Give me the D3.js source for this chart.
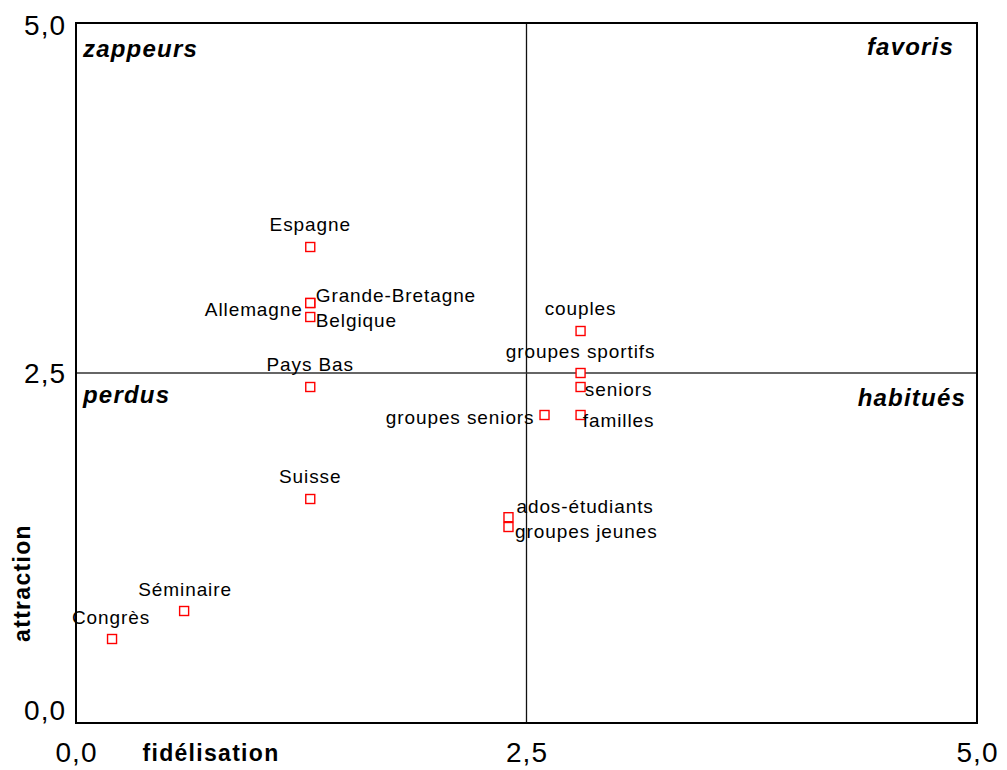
<!DOCTYPE html>
<html>
<head>
<meta charset="utf-8">
<script src="https://cdn.jsdelivr.net/npm/d3@7"></script>
<style>
  html, body { margin: 0; padding: 0; background: #fff; }
  svg { display: block; font-family: "Liberation Sans", Arial, sans-serif; }
</style>
</head>
<body>
<svg id="chart" width="1007" height="770"></svg>
<script>
// ---- data ----
const names = ["Espagne", "Grande-Bretagne", "Allemagne", "Belgique", "Pays Bas", "Suisse",
  "Séminaire", "Congrès", "couples", "groupes sportifs", "seniors", "familles",
  "groupes seniors", "ados-étudiants", "groupes jeunes"];
const fidelisation = [1.3, 1.3, 1.3, 1.3, 1.3, 1.3, 0.6, 0.2, 2.8, 2.8, 2.8, 2.8, 2.6, 2.4, 2.4];
const attraction   = [3.4, 3.0, 3.0, 2.9, 2.4, 1.6, 0.8, 0.6, 2.8, 2.5, 2.4, 2.2, 2.2, 1.47, 1.4];
const tickValues = [0, 2.5, 5];
const quadrants = ["zappeurs", "favoris", "perdus", "habitués"];
const xTitle = "fidélisation";
const yTitle = "attraction";

// ---- label placement (layout only) ----
const labelPlace = {
  "Espagne": [0, -23, "middle"],
  "Grande-Bretagne": [5.5, -7.5, "start"],
  "Allemagne": [-7.5, 6.7, "end"],
  "Belgique": [5.5, 3, "start"],
  "Pays Bas": [0, -23, "middle"],
  "Suisse": [0, -23, "middle"],
  "Séminaire": [1, -22, "middle"],
  "Congrès": [-1, -22, "middle"],
  "couples": [0, -23, "middle"],
  "groupes sportifs": [0, -22, "middle"],
  "seniors": [4.3, 2.7, "start"],
  "familles": [2.3, 5.7, "start"],
  "groupes seniors": [-10, 2, "end"],
  "ados-étudiants": [8, -11, "start"],
  "groupes jeunes": [6.6, 4.4, "start"]
};

const margin = {left: 76, top: 23, right: 30, bottom: 47};
const svg = d3.select("#chart");
const W = 1007 - margin.left - margin.right;
const H = 770 - margin.top - margin.bottom;
const g = svg.append("g").attr("transform", `translate(${margin.left},${margin.top})`);

const x = d3.scaleLinear().domain([0, 5]).range([0, W]);
const y = d3.scaleLinear().domain([0, 5]).range([H, 0]);
const fmt = v => d3.format(".1f")(v).replace(".", ",");

// quadrant lines
g.append("line").attr("x1", x(2.5)).attr("x2", x(2.5)).attr("y1", 0).attr("y2", H)
  .attr("stroke", "#111").attr("stroke-width", 1.3);
g.append("line").attr("x1", 0).attr("x2", W).attr("y1", y(2.5)).attr("y2", y(2.5))
  .attr("stroke", "#333").attr("stroke-width", 1.5);

// frame
g.append("rect").attr("x", 0).attr("y", 0).attr("width", W).attr("height", H)
  .attr("fill", "none").attr("stroke", "#000").attr("stroke-width", 2);

// axes
const xAxis = g.append("g").attr("transform", `translate(0,${H})`)
  .call(d3.axisBottom(x).tickValues(tickValues).tickFormat(fmt).tickSize(0).tickPadding(19));
const yAxis = g.append("g")
  .call(d3.axisLeft(y).tickValues(tickValues).tickFormat(fmt).tickSize(0).tickPadding(10));
[xAxis, yAxis].forEach(a => {
  a.select(".domain").remove();
  a.selectAll("text").attr("font-size", 28).attr("fill", "#000")
    .attr("font-family", "'Liberation Sans', Arial, sans-serif").style("letter-spacing", "1px");
});
yAxis.selectAll(".tick text").attr("dy", d => d === 0 ? "-0.12em" : d === 5 ? "0.4em" : "0.35em");

// axis titles
svg.append("text").attr("x", 211).attr("y", 761).attr("text-anchor", "middle")
  .attr("font-size", 23).attr("font-weight", "bold").style("letter-spacing", "1.3px").text(xTitle);
svg.append("text").attr("transform", "translate(30,583) rotate(-90)").attr("text-anchor", "middle")
  .attr("font-size", 23).attr("font-weight", "bold").style("letter-spacing", "1.3px").text(yTitle);

// quadrant labels
const qPos = [
  {x: 83, y: 57, a: "start"},
  {x: 954, y: 55, a: "end"},
  {x: 83, y: 403, a: "start"},
  {x: 966, y: 406, a: "end"}
];
svg.selectAll("text.quad").data(quadrants).join("text").attr("class", "quad")
  .attr("x", (d, i) => qPos[i].x).attr("y", (d, i) => qPos[i].y)
  .attr("text-anchor", (d, i) => qPos[i].a)
  .attr("font-size", 24).attr("font-weight", "bold").attr("font-style", "italic")
  .style("letter-spacing", "1.2px").text(d => d);

// points
const pts = names.map((n, i) => ({name: n, fx: fidelisation[i], at: attraction[i]}));
const s = 9;
g.selectAll("rect.pt").data(pts).join("rect").attr("class", "pt")
  .attr("x", d => x(d.fx) - s / 2).attr("y", d => y(d.at) - s / 2)
  .attr("width", s).attr("height", s)
  .attr("fill", "#fff").attr("stroke", "#f00").attr("stroke-width", 1.4);

g.selectAll("text.lbl").data(pts).join("text").attr("class", "lbl")
  .attr("x", d => x(d.fx) + labelPlace[d.name][0])
  .attr("y", d => y(d.at) + labelPlace[d.name][1])
  .attr("dy", "0.35em")
  .attr("text-anchor", d => labelPlace[d.name][2])
  .attr("font-size", 19).style("letter-spacing", "0.9px").attr("fill", "#000")
  .text(d => d.name);
</script>
</body>
</html>
